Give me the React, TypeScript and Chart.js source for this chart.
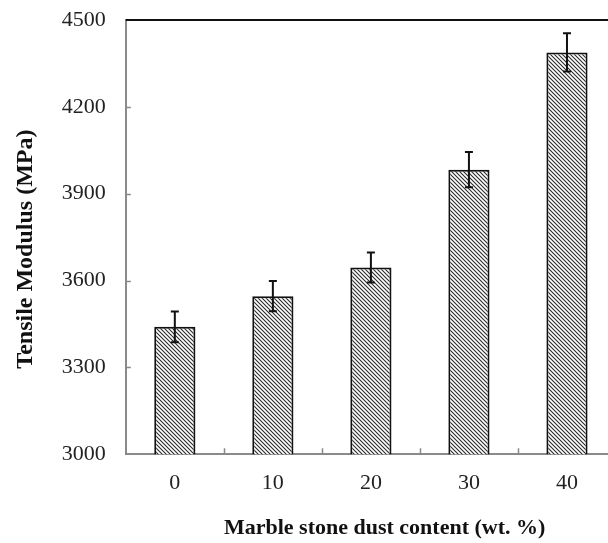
import React, { useEffect, useRef } from 'react';
import { Chart, registerables } from 'chart.js';

Chart.register(...registerables);

const categories = ['0', '10', '20', '30', '40'];
const modulus = [3440, 3546, 3645, 3983, 4388];
const errors = [53, 52, 52, 61, 66];
const yMin = 3000;
const yMax = 4500;
const yStep = 300;
const xTitle = '     Marble stone dust content (wt. %)';
const yTitle = 'Tensile Modulus (MPa)    ';

const FONT = '"Liberation Serif", "Times New Roman", serif';

function makePattern(ctx: CanvasRenderingContext2D) {
  const c = document.createElement('canvas');
  c.width = 4;
  c.height = 4;
  const g = c.getContext('2d')!;
  g.fillStyle = '#ffffff';
  g.fillRect(0, 0, 4, 4);
  g.strokeStyle = '#2a2a2a';
  g.lineWidth = 1.1;
  g.beginPath();
  g.moveTo(-1, -1);
  g.lineTo(5, 5);
  g.moveTo(-1, 3);
  g.lineTo(1, 5);
  g.moveTo(3, -1);
  g.lineTo(5, 1);
  g.stroke();
  return ctx.createPattern(c, 'repeat')!;
}

const decorPlugin = {
  id: 'decor',
  afterDatasetsDraw(chart: any) {
    const ctx = chart.ctx;
    const xs = chart.scales.x;
    const ys = chart.scales.y;
    ctx.save();
    ctx.strokeStyle = '#111';
    ctx.lineWidth = 2;
    modulus.forEach((v, i) => {
      const x = xs.getPixelForValue(i);
      const yt = ys.getPixelForValue(v + errors[i]);
      const yb = ys.getPixelForValue(v - errors[i]);
      ctx.beginPath();
      ctx.moveTo(x, yt);
      ctx.lineTo(x, yb);
      ctx.moveTo(x - 4, yt);
      ctx.lineTo(x + 4, yt);
      ctx.moveTo(x - 4, yb);
      ctx.lineTo(x + 4, yb);
      ctx.stroke();
    });
    ctx.restore();
  },
  afterDraw(chart: any) {
    const ctx = chart.ctx;
    const { left, right, top, bottom } = chart.chartArea;
    const xs = chart.scales.x;
    const ys = chart.scales.y;
    ctx.save();
    ctx.strokeStyle = '#111';
    ctx.lineWidth = 2;
    ctx.beginPath();
    ctx.moveTo(left, top);
    ctx.lineTo(right, top);
    ctx.stroke();
    ctx.strokeStyle = '#888';
    ctx.lineWidth = 1.5;
    ctx.beginPath();
    for (let v = yMin + yStep; v < yMax; v += yStep) {
      const y = Math.round(ys.getPixelForValue(v)) + 0.5;
      ctx.moveTo(left, y);
      ctx.lineTo(left + 5, y);
    }
    for (let i = 0; i < categories.length - 1; i++) {
      const x = Math.round((xs.getPixelForValue(i) + xs.getPixelForValue(i + 1)) / 2) + 0.5;
      ctx.moveTo(x, bottom);
      ctx.lineTo(x, bottom - 6);
    }
    ctx.stroke();
    ctx.restore();
  },
};

export default function App() {
  const ref = useRef<HTMLCanvasElement>(null);
  useEffect(() => {
    const canvas = ref.current!;
    const ctx = canvas.getContext('2d')!;
    const pattern = makePattern(ctx);
    const chart = new Chart(canvas, {
      type: 'bar',
      data: {
        labels: categories,
        datasets: [
          {
            data: modulus,
            backgroundColor: pattern,
            borderColor: '#111',
            borderWidth: 2,
            categoryPercentage: 1,
            barPercentage: 0.42,
          },
        ],
      },
      options: {
        animation: false,
        responsive: false,
        maintainAspectRatio: false,
        devicePixelRatio: 1,
        layout: { padding: { left: 11, top: 20, right: 14, bottom: 1 } },
        plugins: { legend: { display: false }, tooltip: { enabled: false } },
        scales: {
          x: {
            grid: { display: false, drawTicks: false },
            border: { display: true, color: '#8a8a8a', width: 2 },
            ticks: { color: '#222', padding: 16, font: { family: FONT, size: 22 } },
            title: {
              display: true,
              text: xTitle,
              color: '#111',
              font: { family: FONT, size: 22, weight: 'bold' },
              padding: { top: 3, bottom: 0 },
            },
          },
          y: {
            min: yMin,
            max: yMax,
            grid: { display: false, drawTicks: false },
            border: { display: true, color: '#8a8a8a', width: 2 },
            afterFit: (scale: any) => {
              scale.paddingTop = 0;
            },
            ticks: {
              stepSize: yStep,
              color: '#222',
              padding: 20,
              font: { family: FONT, size: 22 },
              callback: (v: any) => String(v),
            },
            title: {
              display: true,
              text: yTitle,
              color: '#111',
              font: { family: FONT, size: 24, weight: 'bold' },
              padding: { top: 0, bottom: 2 },
            },
          },
        },
      },
      plugins: [decorPlugin],
    });
    return () => chart.destroy();
  }, []);
  return (
    <div style={{ position: 'fixed', left: 0, top: 0, width: 608, height: 543, overflow: 'hidden', background: '#fff' }}>
      <canvas ref={ref} width={630} height={543} style={{ display: 'block', width: 630, height: 543 }} />
    </div>
  );
}
